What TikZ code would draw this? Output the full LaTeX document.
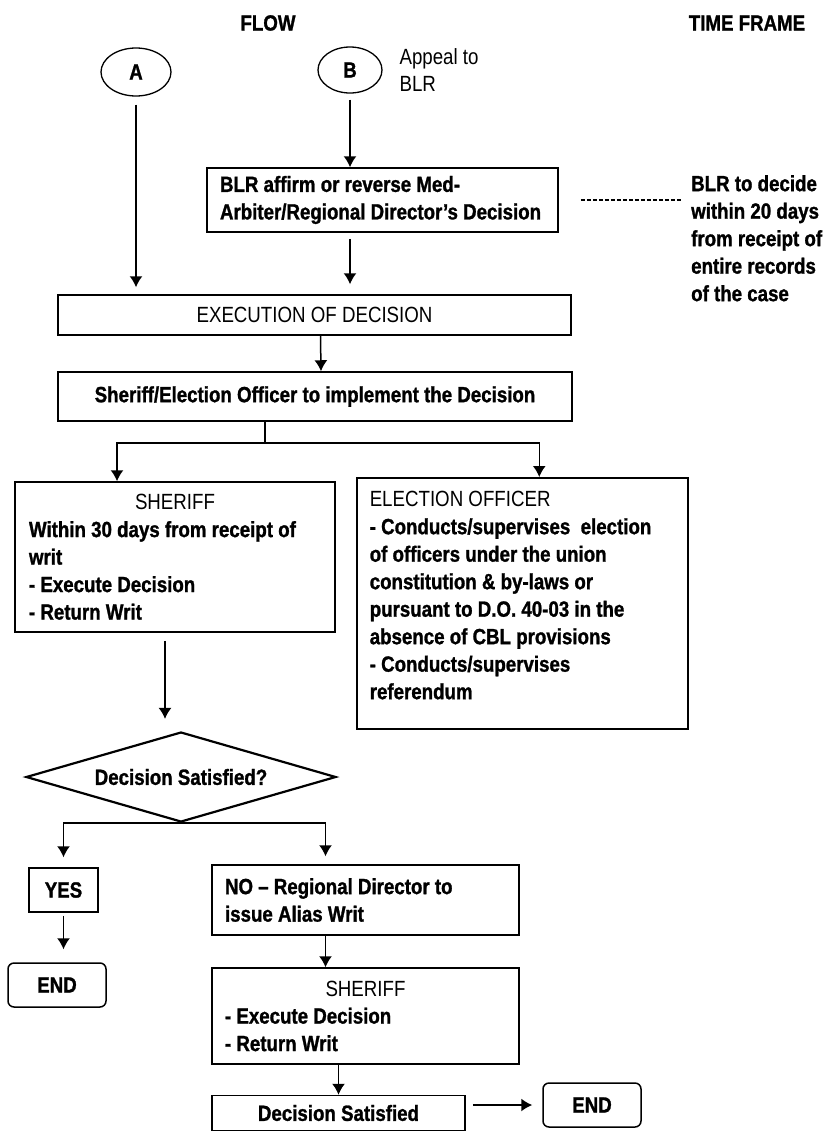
\documentclass[tikz,border=0pt]{standalone}
\usepackage{fontspec}
\setmainfont{Liberation Sans}[FakeStretch=0.85, BoldFeatures={FakeBold=1.2}]
\usetikzlibrary{shapes.geometric}
\usetikzlibrary{positioning}
\usetikzlibrary{arrows.meta}
\tikzset{x=1pt, y=-1pt,
every node/.style={font=\fontsize{22}{27.5}\selectfont\bfseries},
>={Latex[length=11pt,width=13pt]},
block/.style={ % plain boxes of the flow
draw,
line width=1.5pt,
rectangle,
inner sep=0pt},
endbox/.style={block, rounded corners=6pt,
minimum width=98pt, minimum height=44pt},
connector/.style={->, line width=1.5pt}, % arrows between boxes
light/.style={font=\fontsize{22}{27.5}\selectfont\mdseries}}

\begin{document}
\begin{tikzpicture}
\useasboundingbox (0,0) rectangle (827,1133);
% headings
\node (flow) at (268,23) {FLOW};
\node (tframe) at (747,23) {TIME FRAME};
% entry points
\node[draw, ellipse, line width=1.3pt, minimum width=70pt, minimum height=48pt, inner sep=0pt] (A) at (136,72) {A};
\node[draw, ellipse, line width=1.3pt, minimum width=64pt, minimum height=46pt, inner sep=0pt] (B) at (350,70) {B};
\node[light, anchor=west, align=flush left] (appeal) at (396,70) {Appeal to\\BLR};
% upper part
\node[block, minimum width=351pt, minimum height=64pt, text width=325pt, align=flush left] (blr) at (382.5,200) {BLR affirm or reverse Med-\\Arbiter/Regional Director's Decision};
\node[anchor=north west, align=flush left, inner sep=0pt] (tftext) at (691,175) {BLR to decide\\within 20 days\\from receipt of\\entire records\\of the case};
\node[block, light, minimum width=513pt, minimum height=40pt] (exec) at (314.5,315) {EXECUTION OF DECISION};
\node[block, minimum width=514pt, minimum height=49pt] (impl) at (315,396.5) {Sheriff/Election Officer to implement the Decision};
\coordinate (split) at (265,443);
% branches
\node[block, minimum width=320pt, minimum height=150pt, text width=292pt, align=flush left] (sheriff) at (175,557) {\makebox[\linewidth]{\mdseries SHERIFF}\\Within 30 days from receipt of\\writ\\- Execute Decision\\- Return Writ};
\node[block, anchor=north west, minimum width=331pt, minimum height=251pt, text width=305pt, align=flush left] (elect) at (356,477) {{\mdseries ELECTION OFFICER}\\- Conducts/supervises \ election\\of officers under the union\\constitution \& by-laws or\\pursuant to D.O. 40-03 in the\\absence of CBL provisions\\- Conducts/supervises\\referendum\rule[-16pt]{0pt}{1pt}};
\node[draw, diamond, line width=2.2pt, aspect=3.44, minimum width=310pt, minimum height=90pt, inner sep=0pt] (dia) at (181,777) {Decision Satisfied?};
\node[block, minimum width=69pt, minimum height=44pt] (yes) at (63.5,890) {YES};
\node[endbox] (end1) at (57,985) {END};
\node[block, minimum width=307pt, minimum height=70pt, text width=281pt, align=flush left] (no) at (365.5,900) {NO -- Regional Director to\\issue Alias Writ};
\node[block, minimum width=307pt, minimum height=96pt, text width=281pt, align=flush left] (sher2) at (365.5,1016) {\makebox[\linewidth]{\mdseries SHERIFF}\\- Execute Decision\\- Return Writ};
\node[block, minimum width=253pt, minimum height=35pt] (decsat) at (338.5,1113) {Decision Satisfied};
\node[endbox] (end2) at (592,1105) {END};

\draw[connector, shorten <=8pt, shorten >=7pt] (A) -- (A |- exec.north);
\draw[connector, shorten <=6pt] (B) -- (B |- blr.north);
\draw[connector, shorten <=6pt, shorten >=10pt] (B |- blr.south) -- (B |- exec.north);
\draw[line width=1.5pt, dash pattern=on 4pt off 2pt, shorten <=22pt, shorten >=10pt] (blr.east) -- (blr.east -| tftext.west);
\draw[connector] ([xshift=6pt]exec.south) -- ([xshift=6pt]impl.north);
\draw[line width=1.5pt] (impl.south -| split) -- (split);
\draw[connector] (split) -| ([xshift=-58pt]sheriff.north);
\draw[connector] (split) -| ([xshift=17pt]elect.north);
\draw[connector, shorten <=8pt, shorten >=12pt] ([xshift=-10pt]sheriff.south) -- ([xshift=-10pt]sheriff.south |- dia.north);
\draw[connector, shorten >=10pt] (dia.south) -| (yes.north);
\draw[connector, shorten >=8pt] (dia.south) -| ([xshift=-40pt]no.north);
\draw[connector, shorten <=3pt, shorten >=13pt] (yes.south) -- (yes.south |- end1.north);
\draw[connector] ([xshift=-40pt]no.south) -- ([xshift=-40pt]sher2.north);
\draw[connector] (decsat.north |- sher2.south) -- (decsat.north);
\draw[connector, shorten <=7pt, shorten >=10pt] (end2.west -| decsat.east) -- (end2.west);
\end{tikzpicture}
\end{document}
